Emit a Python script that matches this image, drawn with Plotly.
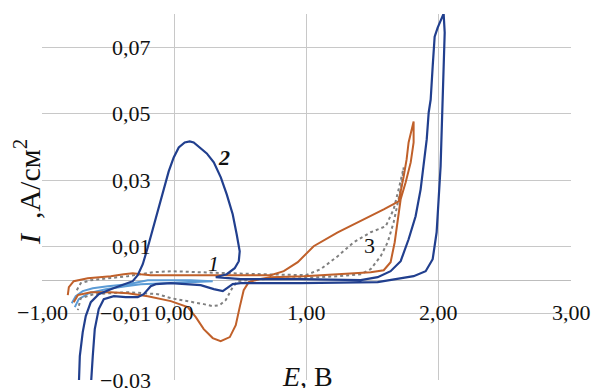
import plotly.graph_objects as go

# ---- data (E in V, I in A/cm^2) ----
E_2 = [-0.722, -0.714, -0.692, -0.669, -0.631, -0.571, -0.480, -0.367, -0.314, -0.276,
       -0.238, -0.200, -0.163, -0.125, -0.079, -0.042, -0.004, 0.034, 0.079, 0.117,
       0.147, 0.193, 0.246, 0.299, 0.352, 0.397, 0.442, 0.472, 0.495, 0.488,
       0.457, 0.397, 0.314, 0.503, 0.956, 1.410, 1.538, 1.636, 1.712, 1.772,
       1.825, 1.863, 1.886, 1.909, 1.924, 1.939, 1.954, 1.969, 1.992, 2.037,
       2.045, 2.037, 2.029, 2.014, 1.999, 1.984, 1.954, 1.901, 1.810, 1.659,
       1.538, 0.956, 0.503, 0.442, 0.404, 0.367, 0.299, 0.200, -0.026, -0.140,
       -0.178, -0.231, -0.276, -0.367, -0.457, -0.533, -0.571, -0.601, -0.616, -0.631]
I_2 = [-0.0321, -0.0228, -0.0156, -0.0108, -0.0066, -0.0042, -0.0027, -0.0012, -0.0003, 0.0015,
       0.0048, 0.0099, 0.0153, 0.0213, 0.0273, 0.0327, 0.0369, 0.0399, 0.0414, 0.0417,
       0.0414, 0.0399, 0.0381, 0.0354, 0.0309, 0.0258, 0.0198, 0.0138, 0.0087, 0.0057,
       0.0036, 0.0018, 0.0009, 0.0003, 0.0003, 0.0, 0.0009, 0.0027, 0.0057, 0.0123,
       0.0192, 0.0273, 0.0342, 0.0423, 0.0504, 0.0543, 0.0642, 0.0732, 0.0759, 0.0801,
       0.0744, 0.0642, 0.0492, 0.0342, 0.0243, 0.0144, 0.0063, 0.0027, 0.0012, 0.0003,
       -0.0006, -0.0009, -0.0009, -0.0012, -0.0024, -0.0033, -0.0027, -0.0015, -0.0009, -0.0012,
       -0.0018, -0.0042, -0.0051, -0.0051, -0.0048, -0.0057, -0.0087, -0.0147, -0.0228, -0.0321]

E_3 = [-0.760, -0.729, -0.631, -0.480, -0.351, -0.200, -0.026, 0.102, 0.163, 0.223,
       0.291, 0.351, 0.420, 0.465, 0.495, 0.525, 0.563, 0.639, 0.729, 0.979,
       1.236, 1.485, 1.584, 1.636, 1.667, 1.689, 1.712, 1.750, 1.788, 1.810,
       1.810, 1.772, 1.757, 1.735, 1.712, 1.697, 1.584, 1.432, 1.236, 1.054,
       0.934, 0.828, 0.729, 0.200, 0.026, -0.178, -0.253, -0.314, -0.382, -0.480,
       -0.654, -0.760, -0.797, -0.805]
I_3 = [-0.0066, -0.0045, -0.0036, -0.0036, -0.0039, -0.0048, -0.0063, -0.0081, -0.0111, -0.0147,
       -0.0174, -0.0183, -0.0171, -0.0135, -0.0081, -0.0030, -0.0006, 0.0003, 0.0009, 0.0012,
       0.0018, 0.0024, 0.0030, 0.0054, 0.0114, 0.0183, 0.0243, 0.0294, 0.0354, 0.0414,
       0.0477, 0.0414, 0.0363, 0.0312, 0.0267, 0.0237, 0.0213, 0.0183, 0.0144, 0.0102,
       0.0054, 0.0027, 0.0015, 0.0015, 0.0015, 0.0015, 0.0018, 0.0021, 0.0018, 0.0012,
       0.0006, -0.0003, -0.0021, -0.0045]

E_1 = [-0.737, -0.707, -0.631, -0.480, -0.351, -0.253, -0.155, -0.026, 0.147, 0.404,
       0.654, 0.881, 0.994, 1.107, 1.236, 1.357, 1.485, 1.599, 1.659, 1.697,
       1.735, 1.720, 1.697, 1.659, 1.614, 1.561, 1.485, 1.410, 1.236, 0.956,
       0.654, 0.480, 0.442, 0.412, 0.389, 0.344, 0.291, 0.223, 0.102, -0.026,
       -0.125, -0.253, -0.351, -0.480, -0.608, -0.707, -0.729]
I_1 = [-0.0030, -0.0009, 0.0, 0.0006, 0.0012, 0.0018, 0.0024, 0.0027, 0.0024, 0.0021,
       0.0018, 0.0015, 0.0015, 0.0033, 0.0072, 0.0114, 0.0144, 0.0162, 0.0213, 0.0273,
       0.0339, 0.0288, 0.0243, 0.0174, 0.0114, 0.0072, 0.0033, 0.0018, 0.0012, 0.0006,
       0.0003, -0.0003, -0.0021, -0.0042, -0.0060, -0.0075, -0.0078, -0.0072, -0.0063, -0.0054,
       -0.0042, -0.0039, -0.0036, -0.0039, -0.0042, -0.0054, -0.0090]

E_4 = [-0.775, -0.745, -0.692, -0.616, -0.503, -0.351, -0.276, -0.200, -0.049, 0.125,
       0.291, 0.125, -0.102, -0.253, -0.367, -0.518, -0.646, -0.722, -0.752]
I_4 = [-0.0069, -0.0048, -0.0033, -0.0024, -0.0018, -0.0012, -0.0006, 0.0, 0.0, 0.0,
       -0.0003, -0.0006, -0.0009, -0.0012, -0.0018, -0.0027, -0.0039, -0.0057, -0.0081]

x_ticks = [-1, 0, 1, 2, 3]
x_tick_labels = ["\u22121,00", "0,00", "1,00", "2,00", "3,00"]
y_ticks = [-0.03, -0.01, 0.01, 0.03, 0.05, 0.07]
y_tick_labels = ["\u22120,03", "\u22120,01", "0,01", "0,03", "0,05", "0,07"]

curve_labels = ["<i>1</i>", "<b><i>2</i></b>", "3"]
curve_label_E = [0.299, 0.374, 1.478]
curve_label_I = [0.0051, 0.0369, 0.0105]

FONT = "Liberation Serif"
GRID = "#c8c8c8"
INK = "#111111"

fig = go.Figure()
fig.add_trace(go.Scatter(x=E_4, y=I_4, mode="lines", line=dict(color="#5b9bd5", width=2), showlegend=False))
fig.add_trace(go.Scatter(x=E_1, y=I_1, mode="lines", line=dict(color="#808080", width=2, dash="dot"), showlegend=False))
fig.add_trace(go.Scatter(x=E_3, y=I_3, mode="lines", line=dict(color="#c0602a", width=2), showlegend=False))
fig.add_trace(go.Scatter(x=E_2, y=I_2, mode="lines", line=dict(color="#213f8e", width=2.2), showlegend=False))

annotations = []
for xv, lab in zip(x_ticks, x_tick_labels):
    annotations.append(dict(x=xv, y=-0.0096, xref="x", yref="y", text=lab, showarrow=False,
                            xanchor="center", yanchor="middle",
                            font=dict(family=FONT, size=22, color=INK)))
for yv, lab in zip(y_ticks, y_tick_labels):
    annotations.append(dict(x=-0.16, y=yv, xref="x", yref="y", text=lab, showarrow=False,
                            xanchor="right", yanchor="middle",
                            font=dict(family=FONT, size=22, color=INK)))
for xv, yv, lab in zip(curve_label_E, curve_label_I, curve_labels):
    annotations.append(dict(x=xv, y=yv, xref="x", yref="y", text=lab, showarrow=False,
                            xanchor="center", yanchor="middle",
                            font=dict(family=FONT, size=22, color=INK)))
annotations.append(dict(x=1.01, y=0.01, xref="x", yref="paper", text="<i>E</i>, B", showarrow=False,
                        xanchor="center", yanchor="middle",
                        font=dict(family=FONT, size=28, color=INK)))
annotations.append(dict(x=-0.028, y=0.514, xref="paper", yref="paper",
                        text="<i>I</i>  ,A/см<sup>2</sup>", showarrow=False, textangle=-90,
                        xanchor="center", yanchor="middle",
                        font=dict(family=FONT, size=30, color=INK)))

fig.update_layout(
    width=592, height=388, autosize=False,
    margin=dict(l=42, r=21, t=14, b=8),
    paper_bgcolor="white", plot_bgcolor="white",
    annotations=annotations,
    xaxis=dict(range=[-1, 3], tickvals=x_ticks, showticklabels=False, ticks="",
               showgrid=True, gridcolor=GRID, gridwidth=1,
               zeroline=True, zerolinecolor=GRID, zerolinewidth=1, showline=False),
    yaxis=dict(range=[-0.03, 0.08], tickvals=y_ticks, showticklabels=False, ticks="",
               showgrid=True, gridcolor=GRID, gridwidth=1,
               zeroline=True, zerolinecolor="#bdbdbd", zerolinewidth=1.3, showline=False),
)

fig.write_html("out.html",
               config={"displayModeBar": False},
               post_script="document.body.style.margin='0px';document.body.style.overflow='hidden';")
